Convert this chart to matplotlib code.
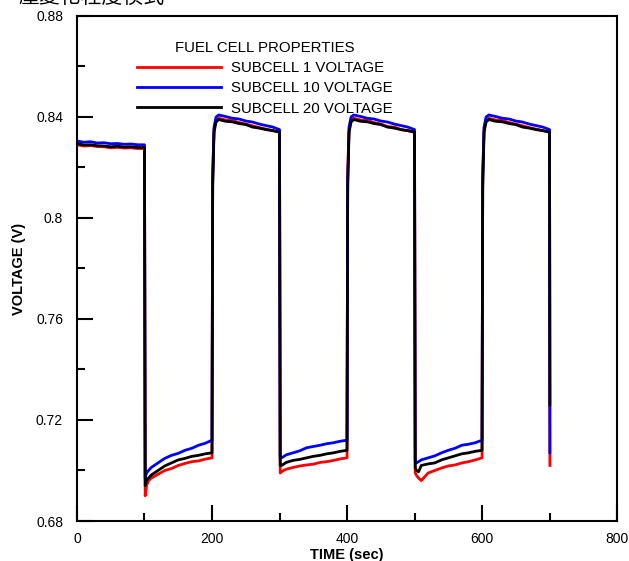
import numpy as np
from matplotlib import pyplot as plt
from matplotlib.ticker import MultipleLocator, FixedLocator, FixedFormatter

plt.rcParams['font.family'] = ['Liberation Sans', 'Noto Sans CJK TC', 'DejaVu Sans']

# time points (sec)
time = [0, 10, 20, 30, 40, 50, 60, 70, 80, 90, 100,
        101, 103, 106, 110, 120, 130, 140, 150, 160, 170, 180, 190, 200,
        201, 203, 206, 210, 220, 230, 240, 250, 260, 270, 280, 290, 300,
        301, 303, 306, 310, 320, 330, 340, 350, 360, 370, 380, 390, 400,
        401, 403, 406, 410, 420, 430, 440, 450, 460, 470, 480, 490, 500,
        501, 503, 506, 510, 520, 530, 540, 550, 560, 570, 580, 590, 600,
        601, 603, 606, 610, 620, 630, 640, 650, 660, 670, 680, 690, 700,
        700.5]

subcell1 = [.8290, .8285, .8287, .8283, .8282, .8278, .8280, .8277, .8278, .8275, .8275,
            .6900, .6940, .6960, .6970, .6985, .7000, .7008, .7020, .7028, .7035, .7038, .7045, .7050,
            .8180, .8350, .8390, .8395, .8388, .8386, .8378, .8372, .8365, .8358, .8352, .8346, .8340,
            .6990, .6995, .7000, .7005, .7012, .7018, .7022, .7025, .7032, .7035, .7040, .7046, .7050,
            .8180, .8350, .8390, .8395, .8388, .8386, .8378, .8372, .8362, .8360, .8350, .8346, .8340,
            .6990, .6980, .6970, .6960, .6990, .7000, .7010, .7018, .7022, .7030, .7035, .7042, .7050,
            .8180, .8350, .8390, .8395, .8388, .8386, .8378, .8372, .8365, .8358, .8352, .8346, .8340,
            .7020]
subcell10 = [.8305, .8300, .8302, .8297, .8298, .8294, .8295, .8292, .8293, .8290, .8290,
             .6970, .6990, .7000, .7012, .7030, .7048, .7060, .7068, .7080, .7088, .7100, .7108, .7120,
             .8150, .8360, .8400, .8408, .8402, .8395, .8392, .8384, .8380, .8372, .8366, .8360, .8350,
             .7050, .7050, .7055, .7062, .7070, .7078, .7090, .7095, .7100, .7106, .7110, .7116, .7120,
             .8150, .8360, .8400, .8408, .8402, .8395, .8392, .8384, .8380, .8372, .8366, .8360, .8350,
             .7040, .7030, .7035, .7042, .7050, .7058, .7070, .7080, .7088, .7100, .7104, .7110, .7120,
             .8150, .8360, .8400, .8408, .8402, .8395, .8392, .8384, .8380, .8372, .8366, .8360, .8350,
             .7070]
subcell20 = [.8295, .8289, .8290, .8286, .8285, .8282, .8284, .8281, .8282, .8279, .8279,
             .6940, .6960, .6970, .6982, .7000, .7018, .7030, .7042, .7048, .7056, .7060, .7066, .7070,
             .8120, .8340, .8380, .8390, .8383, .8381, .8374, .8370, .8360, .8356, .8350, .8346, .8340,
             .7020, .7020, .7025, .7032, .7040, .7044, .7050, .7056, .7060, .7066, .7070, .7076, .7080,
             .8120, .8340, .8380, .8390, .8383, .8381, .8374, .8370, .8360, .8356, .8350, .8346, .8340,
             .7010, .7000, .6995, .7020, .7026, .7030, .7042, .7050, .7058, .7066, .7070, .7076, .7080,
             .8120, .8340, .8380, .8390, .8383, .8381, .8374, .8370, .8360, .8356, .8350, .8346, .8340,
             .7260]

ytick_vals = [0.68, 0.72, 0.76, 0.80, 0.84, 0.88]
ytick_labels = ['0.68', '0.72', '0.76', '0.8', '0.84', '0.88']

fig = plt.figure(figsize=(6.29, 5.61), dpi=100)
ax = fig.add_axes([0.1224, 0.0713, 0.8586, 0.9002])

ax.plot(time, subcell1, color='#ff0000', lw=2, label='SUBCELL 1 VOLTAGE')
ax.plot(time, subcell10, color='#0000ff', lw=2, label='SUBCELL 10 VOLTAGE')
ax.plot(time, subcell20, color='black', lw=2, label='SUBCELL 20 VOLTAGE')

ax.set_xlim(0, 800)
ax.set_ylim(0.68, 0.88)
ax.xaxis.set_major_locator(MultipleLocator(200))
ax.xaxis.set_minor_locator(MultipleLocator(100))
ax.yaxis.set_major_locator(FixedLocator(ytick_vals))
ax.yaxis.set_major_formatter(FixedFormatter(ytick_labels))
ax.yaxis.set_minor_locator(MultipleLocator(0.02))
ax.tick_params(which='both', direction='in', top=False, right=False, width=1.5, labelsize=10)
ax.tick_params(which='major', length=11.5)
ax.tick_params(which='minor', length=6)
ax.tick_params(axis='y', pad=10)
ax.tick_params(axis='x', pad=8)
for s in ax.spines.values():
    s.set_linewidth(1.5)

ax.set_xlabel('TIME (sec)', fontsize=10.5, fontweight='bold', labelpad=1)
ax.set_ylabel('VOLTAGE (V)', fontsize=10.5, fontweight='bold', labelpad=7)

leg = ax.legend(title='FUEL CELL PROPERTIES', loc='upper left', bbox_to_anchor=(0.111, 0.951),
                frameon=False, fontsize=10.8, title_fontsize=10.8, handlelength=5.6,
                handletextpad=0.65, labelspacing=0.42, borderaxespad=0, borderpad=0)

# cropped caption line at the very top of the picture
fig.text(0.03, 1.005, '壓變化程度模式', fontsize=15, va='center', ha='left')

plt.savefig('out.png', dpi=100)
